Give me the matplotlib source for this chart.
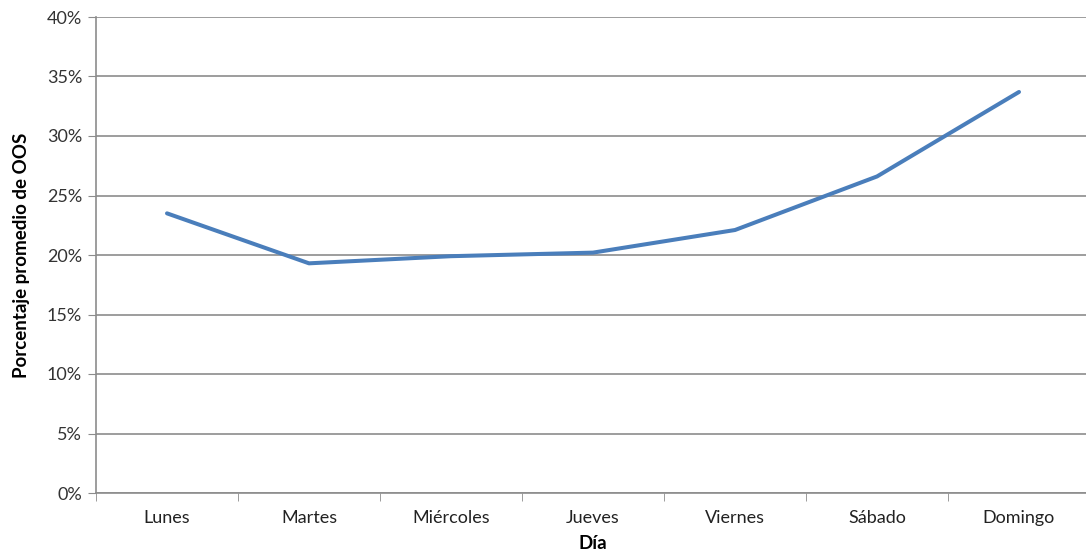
import matplotlib.pyplot as plt
from matplotlib.ticker import FuncFormatter

# Datos
dias = ["Lunes", "Martes", "Miércoles", "Jueves", "Viernes", "Sábado", "Domingo"]
oos = [0.235, 0.193, 0.199, 0.202, 0.221, 0.266, 0.337]


def main():
    plt.rcParams['font.family'] = ['Lato', 'DejaVu Sans']

    W, H = 1086, 557
    fig = plt.figure(figsize=(W / 100, H / 100), dpi=100)
    # ejes en píxeles: izquierda 96, derecha 1090, arriba 17, abajo 493
    ax = fig.add_axes([96 / W, (H - 493) / H, (1090 - 96) / W, (493 - 17) / H])

    x = list(range(len(dias)))
    ax.plot(x, oos, color='#4A7EBB', linewidth=2.9, solid_capstyle='round')

    ax.set_xlim(-0.5, len(dias) - 0.5)
    ax.set_ylim(0, 0.40)
    ax.set_yticks([i * 0.05 for i in range(9)])
    ax.yaxis.set_major_formatter(FuncFormatter(lambda v, p: f"{v * 100:.0f}%"))
    ax.set_xticks(x)
    ax.set_xticklabels(dias)
    ax.set_xticks([i - 0.5 for i in range(len(dias) + 1)], minor=True)

    ax.grid(axis='y', color='#8C8C8C', linewidth=1.2)
    ax.set_axisbelow(True)
    for s in ['top', 'right']:
        ax.spines[s].set_visible(False)
    for s in ['left', 'bottom']:
        ax.spines[s].set_color('#8C8C8C')
        ax.spines[s].set_linewidth(1.2)

    ax.tick_params(axis='x', which='major', length=0, pad=12, labelsize=13, labelcolor='#222222')
    ax.tick_params(axis='x', which='minor', length=6, color='#8C8C8C')
    ax.tick_params(axis='y', length=6, color='#8C8C8C', labelsize=13, labelcolor='#333333', pad=4)

    ax.set_ylabel("Porcentaje promedio de OOS", fontsize=13.5, fontweight='bold', labelpad=12)
    ax.set_xlabel("Día", fontsize=13.5, fontweight='bold', labelpad=7)

    plt.savefig("out.png", dpi=100)


if __name__ == "__main__":
    main()
